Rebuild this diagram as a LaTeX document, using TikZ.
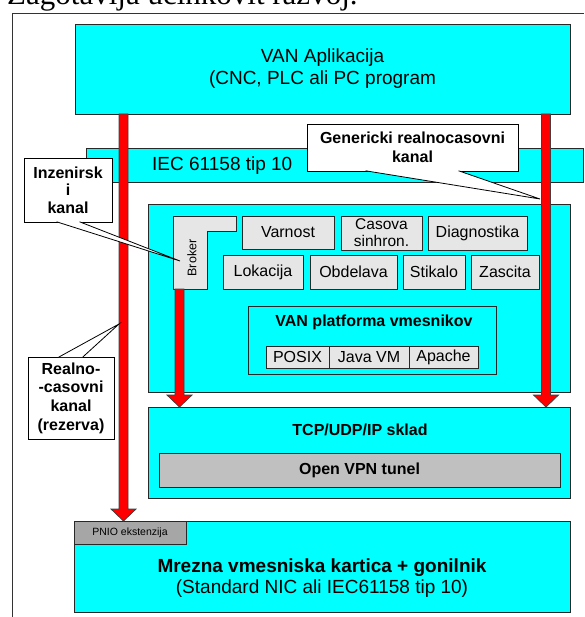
\documentclass[tikz,border=0pt]{standalone}
\usepackage{fontspec}
\setmainfont{Liberation Sans}
\newfontfamily\slidefont{Liberation Serif}
\usetikzlibrary{calc}

\definecolor{vancyan}{RGB}{0,255,255}
\definecolor{boxgray}{RGB}{230,230,230}
\definecolor{tunelgray}{RGB}{192,192,192}
\definecolor{tabgray}{RGB}{166,166,166}
\definecolor{edge}{RGB}{40,40,40}

\tikzset{
  layer/.style={draw=edge, line width=0.8pt, fill=vancyan, inner sep=0pt},
  module/.style={draw=edge, line width=0.8pt, fill=boxgray, inner sep=0pt,
    font=\fontsize{16}{18}\selectfont, align=center},
  callout/.style={draw=black, line width=0.8pt, fill=white, inner sep=0pt,
    font=\bfseries\fontsize{16}{18.5}\selectfont, align=center},
  redbar/.style={draw=black!75, line width=0.8pt, fill=red},
}

% thick red channel arrow, from #1 down to #2
\newcommand{\fatarrow}[2]{%
  \path[redbar] let \p1=(#1), \p2=(#2) in
    (\x1-4.5pt,\y1) -- (\x1+4.5pt,\y1) -- (\x1+4.5pt,\y2+12pt) -- (\x1+12.5pt,\y2+12pt)
    -- (\x1,\y2) -- (\x1-12.5pt,\y2+12pt) -- (\x1-4.5pt,\y2+12pt) -- cycle;}
% pointer of a callout
\newcommand{\calloutwedge}[3]{%
  \fill[white] (#1) -- (#2) -- (#3) -- cycle;
  \draw[line width=0.8pt] (#1) -- (#2) -- (#3);}

\begin{document}
\begin{tikzpicture}[x=1pt,y=-1pt]
\useasboundingbox (0,0) rectangle (584,617);

% page text and frame
\node[anchor=base west, inner sep=0pt, font=\slidefont\fontsize{31}{34}\selectfont] (title) at (7,5) {Zagotavlja učinkovit razvoj.};
\draw[line width=0.8pt, black!80] (12.5,617) -- (12.5,13) -- (584,13);

% application
\node[layer, minimum width=495pt, minimum height=90pt, align=center,
  font=\fontsize{19}{22}\selectfont] (van) at (322.5,69) {VAN Aplikacija\\(CNC, PLC ali PC program};

% IEC band
\node[layer, minimum width=497pt, minimum height=34pt] (iec) at (334.5,165) {};
\node[anchor=west, inner sep=0pt, font=\fontsize{19}{21}\selectfont] (ieclabel) at (152,166) {IEC 61158 tip 10};

% services
\node[layer, minimum width=422pt, minimum height=188pt] (svc) at (359,298) {};
\node[module, minimum width=92pt, minimum height=33pt] (varnost) at (288,232.5) {Varnost};
\node[module, minimum width=81pt, minimum height=34pt, font=\fontsize{15.5}{17}\selectfont] (casova) at (381.5,233) {Casova\\sinhron.};
\node[module, minimum width=99pt, minimum height=34pt] (diag) at (477.5,233) {Diagnostika};
\node[module, minimum width=80pt, minimum height=34pt] (lokacija) at (263,272) {Lokacija};
\node[module, minimum width=87pt, minimum height=34pt] (obdelava) at (353.5,272) {Obdelava};
\node[module, minimum width=62pt, minimum height=34pt] (stikalo) at (434,272) {Stikalo};
\node[module, minimum width=68pt, minimum height=34pt] (zascita) at (505,272) {Zascita};
\draw[draw=edge, line width=0.8pt, fill=boxgray] (173,216) -- (236,216) -- (236,231) -- (207,231) -- (207,289) -- (173,289) -- cycle;
\node[rotate=90, inner sep=0pt, font=\fontsize{12.5}{14}\selectfont] (broker) at (192,258) {Broker};

% middleware platform
\node[layer, minimum width=248pt, minimum height=68pt] (platf) at (372,340) {};
\node[font=\bfseries\fontsize{16}{18}\selectfont] (platflabel) at (374,322) {VAN platforma vmesnikov};
\node[module, minimum width=63pt, minimum height=22pt] (posix) at (297.5,357) {POSIX};
\node[module, minimum width=80pt, minimum height=22pt] (java) at (369,357) {Java VM};
\node[module, minimum width=69pt, minimum height=22pt] (apache) at (443.5,357) {Apache};

% network stack
\node[layer, minimum width=422pt, minimum height=91pt] (tcp) at (359,452.5) {};
\node[font=\bfseries\fontsize{16}{18}\selectfont] (tcplabel) at (360,430) {TCP/UDP/IP sklad};
\node[module, fill=tunelgray, minimum width=401pt, minimum height=34pt,
  font=\bfseries\fontsize{16}{18}\selectfont] (vpn) at (359.5,470) {Open VPN tunel};

% network card
\node[layer, minimum width=496pt, minimum height=91pt] (nic) at (322,566.5) {};
\node[align=center, font=\fontsize{19}{20.5}\selectfont] (niclabel) at (322,578) {\bfseries Mrezna vmesniska kartica + gonilnik\\(Standard NIC ali IEC61158 tip 10)};
\node[module, fill=tabgray, anchor=north west, minimum width=112pt, minimum height=23pt,
  font=\fontsize{10.5}{12}\selectfont] (pnio) at (nic.north west) {PNIO ekstenzija};

% channels
\coordinate (lefttop) at (123.5,114);
\coordinate (lefttip) at (123.5,521);
\coordinate (righttop) at (546,114);
\coordinate (righttip) at (546,407);
\coordinate (brokertop) at (179.5,289);
\coordinate (brokertip) at (179.5,407);
\fatarrow{lefttop}{lefttip}
\fatarrow{righttop}{righttip}
\fatarrow{brokertop}{brokertip}

% callouts
\node[callout, minimum width=211pt, minimum height=47pt] (generic) at (412.5,147.5) {Genericki realnocasovni\\kanal};
\coordinate (g1) at ([xshift=59pt,yshift=0.6pt]generic.south west);
\coordinate (g2) at ([xshift=152pt,yshift=0.6pt]generic.south west);
\coordinate (gtip) at (540,199);
\calloutwedge{g1}{gtip}{g2}

\node[callout, minimum width=88pt, minimum height=64pt, font=\bfseries\fontsize{16}{17.5}\selectfont] (inz) at (68,190) {Inzenirsk\\i\\kanal};
\coordinate (i1) at ([xshift=33pt,yshift=0.6pt]inz.south west);
\coordinate (i2) at ([xshift=56pt,yshift=0.6pt]inz.south west);
\coordinate (itip) at (180,261);
\calloutwedge{i1}{itip}{i2}

\node[callout, minimum width=86pt, minimum height=82pt, font=\bfseries\fontsize{16}{18.7}\selectfont] (realno) at (71,398) {Realno-\\-casovni\\kanal\\(rezerva)};
\coordinate (r1) at ([xshift=31pt,yshift=-0.6pt]realno.north west);
\coordinate (r2) at ([xshift=55pt,yshift=-0.6pt]realno.north west);
\coordinate (rtip) at (119,324);
\calloutwedge{r1}{rtip}{r2}
\end{tikzpicture}
\end{document}
